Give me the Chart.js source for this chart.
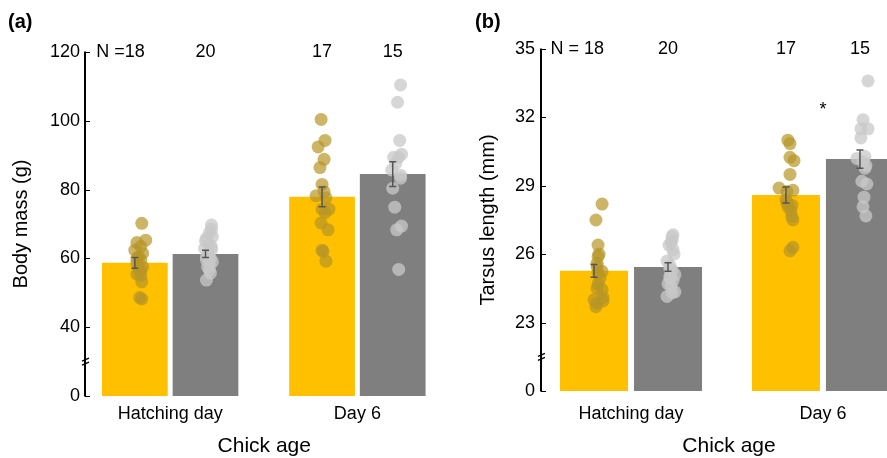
<!DOCTYPE html>
<html>
<head>
<meta charset="utf-8">
<script src="https://cdn.jsdelivr.net/npm/chart.js@4.4.1/dist/chart.umd.min.js"></script>
<style>
    html, body { margin: 0; padding: 0; background: #fff; overflow: hidden; }
    #wrap { position: relative; width: 887px; height: 458px; overflow: hidden; }
    canvas { position: absolute; top: 0; }
    #massChart { left: 0; }
    #tarsusChart { left: 450px; }
</style>
</head>
<body>
<div id="wrap">
    <canvas id="massChart" width="450" height="458"></canvas>
    <canvas id="tarsusChart" width="480" height="458"></canvas>
</div>
<script>
/*
| Chick body mass and tarsus length, two groups (yellow / grey),
| bars = mean, whiskers = SE, dots = individual chicks.
*/

const ages = ["Hatching day", "Day 6"];

const nYellow = [18, 17];
const nGrey = [20, 15];

// Body mass (g)
const massTicks = [0, 40, 60, 80, 100, 120];
const massMeanYellow = [58.7, 77.9];
const massSeYellow = [1.55, 2.85];
const massMeanGrey = [61.3, 84.5];
const massSeGrey = [1.05, 3.6];

const massHatchYellow = [70.2, 65.3, 64.6, 63.5, 62.4, 61.5, 60.5, 60.0, 59.5, 58.6, 57.6, 57.0, 56.5, 55.4, 55.0, 53.2, 48.6, 48.2];
const massHatchYellowJit = [.037, .058, .011, .032, 0, .042, .021, .011, .032, .011, .042, .021, .032, .011, .032, .037, .026, .037];
const massHatchGrey = [69.7, 68.5, 67.5, 66.3, 65.8, 65.1, 64.0, 63.4, 62.9, 62.5, 61.5, 60.5, 60.0, 59.5, 59.0, 58.4, 57.5, 56.6, 55.7, 53.7];
const massHatchGreyJit = [.032, .032, .021, .037, .005, 0, .021, .032, -.005, .032, .016, .005, .026, .005, .037, .021, .011, .021, .026, .005];
const massDay6Yellow = [100.4, 94.3, 92.4, 88.8, 86.4, 81.5, 79.4, 78.2, 77.6, 74.3, 74.3, 73.3, 70.3, 68.3, 62.4, 62.0, 59.2];
const massDay6YellowJit = [-.005, .016, -.021, .011, -.011, 0, .011, -.032, .021, 0, .037, .016, -.005, .032, 0, .005, .021];
const massDay6Grey = [110.4, 105.4, 94.3, 90.3, 89.4, 89.4, 87.6, 85.7, 84.2, 83.3, 80.4, 74.9, 69.4, 68.3, 56.8];
const massDay6GreyJit = [.042, .026, .037, .047, .005, .032, .016, -.005, .042, .042, 0, .011, .047, .021, .032];

// Tarsus length (mm)
const tarsusTicks = [0, 23, 26, 29, 32, 35];
const tarsusMeanYellow = [25.27, 28.6];
const tarsusSeYellow = [0.28, 0.35];
const tarsusMeanGrey = [25.44, 30.17];
const tarsusSeGrey = [0.19, 0.4];

const tarsusHatchYellow = [28.2, 27.5, 26.4, 26.0, 25.9, 25.6, 25.45, 25.25, 25.2, 24.95, 24.7, 24.5, 24.45, 24.1, 24.0, 23.95, 23.85, 23.7];
const tarsusHatchYellowJit = [.042, .010, .021, .026, .021, .016, .016, .042, .021, .031, .021, .016, .042, .047, 0, .047, .016, .010];
const tarsusHatchGrey = [26.85, 26.75, 26.6, 26.5, 26.4, 26.2, 26.0, 25.7, 25.5, 25.35, 25.3, 25.1, 25.05, 24.95, 24.85, 24.7, 24.6, 24.35, 24.3, 24.15];
const tarsusHatchGreyJit = [.026, .021, .021, .016, .005, .026, .031, -.005, .010, .010, .021, .036, .010, .010, .026, 0, .016, .036, .021, -.005];
const tarsusDay6Yellow = [31.0, 30.85, 30.25, 30.1, 29.5, 28.9, 28.8, 28.75, 28.4, 28.25, 28.15, 28.1, 27.9, 27.65, 27.5, 26.3, 26.15];
const tarsusDay6YellowJit = [.010, .021, .021, .042, .021, -.036, .036, .005, 0, .005, .031, .010, .026, .031, .036, .036, .021];
const tarsusDay6Grey = [33.6, 31.9, 31.5, 31.5, 31.1, 30.28, 30.2, 30.06, 29.9, 29.77, 29.2, 29.08, 28.5, 28.08, 27.68];
const tarsusDay6GreyJit = [.042, .016, .005, .042, .005, .026, -.016, .016, .031, .026, .010, .036, .021, .016, .031];

const YELLOW = "#FFC000";
const GREY = "#7F7F7F";
const YELLOW_DOT = "rgba(182, 150, 38, 0.7)";
const GREY_DOT = "rgba(200, 200, 200, 0.75)";
const WHISKER = "#555555";
const FONT = "'Liberation Sans', Arial, Helvetica, sans-serif";

Chart.defaults.font.family = FONT;
Chart.defaults.color = "#000";

function pointData(valuesByAge, jitterByAge, side, catPct, toAxis) {

    const out = [];

    valuesByAge.forEach((vals, i) => {

        vals.forEach((v, k) => {

            out.push({ x: i + 1 + side * catPct / 4 + jitterByAge[i][k], y: toAxis(v) });

        });

    });

    return out;
}

function createPanel({

    canvas,

    panelLabel,

    yTitle,

    ticksReal,

    meanYellow, seYellow, meanGrey, seGrey,

    dotsYellow, jitYellow, dotsGrey, jitGrey,

    nPrefix,

    marks = [],

    box

}) {

    // broken axis: everything above the break is shifted down by the gap
    const gap = ticksReal[1] - (ticksReal[2] - ticksReal[1]);

    const toAxis = v => (v === 0 ? 0 : v - gap);

    const tickAxis = ticksReal.map(toAxis);

    const yMax = tickAxis[tickAxis.length - 1];

    const decor = {

        id: "decor",

        afterDatasetsDraw(chart) {

            const { ctx, scales: { y } } = chart;

            ctx.save();

            ctx.strokeStyle = WHISKER;

            ctx.lineWidth = 1.5;

            [[0, meanYellow, seYellow], [1, meanGrey, seGrey]].forEach(([idx, means, ses]) => {

                chart.getDatasetMeta(idx).data.forEach((bar, i) => {

                    const top = y.getPixelForValue(toAxis(means[i] + ses[i]));

                    const bot = y.getPixelForValue(toAxis(means[i] - ses[i]));

                    ctx.beginPath();

                    ctx.moveTo(bar.x, top); ctx.lineTo(bar.x, bot);

                    ctx.moveTo(bar.x - 3.5, top); ctx.lineTo(bar.x + 3.5, top);

                    ctx.moveTo(bar.x - 3.5, bot); ctx.lineTo(bar.x + 3.5, bot);

                    ctx.stroke();

                });

            });

            ctx.restore();

        },

        afterDraw(chart) {

            const { ctx, chartArea, scales: { x, y } } = chart;

            const left = chartArea.left;

            const yTop = y.getPixelForValue(yMax);

            const yZero = y.getPixelForValue(0);

            ctx.save();

            // y axis line
            ctx.strokeStyle = "#000";

            ctx.lineWidth = 2;

            ctx.beginPath();

            ctx.moveTo(left, yTop - 0.5);

            ctx.lineTo(left, yZero + 0.5);

            ctx.stroke();

            // ticks point inwards
            ctx.lineWidth = 1;

            ctx.beginPath();

            tickAxis.forEach(v => {

                const py = Math.round(y.getPixelForValue(v)) + 0.5;

                ctx.moveTo(left, py);

                ctx.lineTo(left + 5, py);

            });

            ctx.stroke();

            // break mark
            const by = y.getPixelForValue(tickAxis[1] / 2);

            ctx.lineWidth = 1.3;

            ctx.beginPath();

            [-2, 2].forEach(d => {

                ctx.moveTo(left - 3, by + d + 1.5);

                ctx.lineTo(left + 4, by + d - 1.5);

            });

            ctx.stroke();

            // sample sizes
            ctx.fillStyle = "#000";

            ctx.font = "18px " + FONT;

            ctx.textBaseline = "middle";

            [[0, nYellow], [1, nGrey]].forEach(([idx, ns]) => {

                chart.getDatasetMeta(idx).data.forEach((bar, i) => {

                    const txt = String(ns[i]);

                    ctx.textAlign = "center";

                    ctx.fillText(txt, bar.x, chartArea.top);

                    if (idx === 0 && i === 0) {

                        ctx.textAlign = "right";

                        ctx.fillText(nPrefix, bar.x - ctx.measureText(txt).width / 2, chartArea.top);

                    }

                });

            });

            // significance marks
            ctx.textAlign = "center";

            marks.forEach(m => {

                ctx.fillText(m.text, x.getPixelForValue(m.x), y.getPixelForValue(toAxis(m.y)) + 4);

            });

            // panel letter
            ctx.font = "bold 20px " + FONT;

            ctx.textAlign = "left";

            ctx.fillText(panelLabel, box.labelX, 22);

            ctx.restore();

        }

    };

    return new Chart(canvas, {

        type: "bar",

        data: {

            datasets: [

                {

                    type: "bar",

                    data: meanYellow.map((m, i) => ({ x: i + 1, y: toAxis(m) })),

                    backgroundColor: YELLOW,

                    borderWidth: 0,

                    categoryPercentage: box.catPct,

                    barPercentage: box.barPct,

                    order: 2

                },

                {

                    type: "bar",

                    data: meanGrey.map((m, i) => ({ x: i + 1, y: toAxis(m) })),

                    backgroundColor: GREY,

                    borderWidth: 0,

                    categoryPercentage: box.catPct,

                    barPercentage: box.barPct,

                    order: 2

                },

                {

                    type: "scatter",

                    data: pointData(dotsYellow, jitYellow, -1, box.catPct, toAxis),

                    backgroundColor: YELLOW_DOT,

                    borderWidth: 0,

                    pointRadius: 6.5,

                    order: 1

                },

                {

                    type: "scatter",

                    data: pointData(dotsGrey, jitGrey, 1, box.catPct, toAxis),

                    backgroundColor: GREY_DOT,

                    borderWidth: 0,

                    pointRadius: 6.5,

                    order: 1

                }

            ]

        },

        options: {

            responsive: false,

            animation: false,

            events: [],

            layout: {

                padding: { left: 0, top: box.padTop, right: box.padRight, bottom: 0 }

            },

            plugins: {

                legend: { display: false },

                tooltip: { enabled: false }

            },

            scales: {

                x: {

                    type: "linear",

                    offset: false,

                    min: box.xMin,

                    max: box.xMax,

                    grid: { display: false, drawTicks: false },

                    border: { display: false },

                    afterBuildTicks: s => { s.ticks = ages.map((a, i) => ({ value: i + 1 })); },

                    afterFit: s => { s.height = box.xHeight; },

                    ticks: {

                        autoSkip: false,

                        maxRotation: 0,

                        padding: box.xTickPad,

                        font: { size: 18 },

                        callback: v => ages[v - 1]

                    },

                    title: {

                        display: true,

                        text: "Chick age",

                        font: { size: 21, lineHeight: 1 },

                        padding: { top: 0, bottom: 1.5 }

                    }

                },

                y: {

                    min: 0,

                    max: yMax,

                    grid: { display: false, drawTicks: false },

                    border: { display: false },

                    afterBuildTicks: s => { s.ticks = tickAxis.map(v => ({ value: v })); },

                    afterFit: s => { s.width = box.yWidth; },

                    ticks: {

                        padding: box.yTickPad,

                        font: { size: 18 },

                        callback: (v, i) => String(ticksReal[i])

                    },

                    title: {

                        display: true,

                        text: yTitle,

                        font: { size: 20, lineHeight: 1 },

                        padding: { top: box.yTitlePad, bottom: 0 }

                    }

                }

            }

        },

        plugins: [decor]

    });
}

createPanel({

    canvas: document.getElementById("massChart"),

    panelLabel: "(a)",

    yTitle: "Body mass (g)",

    ticksReal: massTicks,

    meanYellow: massMeanYellow, seYellow: massSeYellow,

    meanGrey: massMeanGrey, seGrey: massSeGrey,

    dotsYellow: [massHatchYellow, massDay6Yellow],

    jitYellow: [massHatchYellowJit, massDay6YellowJit],

    dotsGrey: [massHatchGrey, massDay6Grey],

    jitGrey: [massHatchGreyJit, massDay6GreyJit],

    nPrefix: "N =",

    box: {

        labelX: 8, padTop: 52, padRight: 5, yWidth: 85, xHeight: 62,

        xMin: 0.545, xMax: 2.46, catPct: 0.755, barPct: 0.93,

        yTickPad: 5, xTickPad: 7, yTitlePad: 11.5

    }

});

createPanel({

    canvas: document.getElementById("tarsusChart"),

    panelLabel: "(b)",

    yTitle: "Tarsus length (mm)",

    ticksReal: tarsusTicks,

    meanYellow: tarsusMeanYellow, seYellow: tarsusSeYellow,

    meanGrey: tarsusMeanGrey, seGrey: tarsusSeGrey,

    dotsYellow: [tarsusHatchYellow, tarsusDay6Yellow],

    jitYellow: [tarsusHatchYellowJit, tarsusDay6YellowJit],

    dotsGrey: [tarsusHatchGrey, tarsusDay6Grey],

    jitGrey: [tarsusHatchGreyJit, tarsusDay6GreyJit],

    nPrefix: "N = ",

    marks: [{ x: 2, y: 32.5, text: "*" }],

    box: {

        labelX: 25, padTop: 49, padRight: 13, yWidth: 91, xHeight: 67,

        xMin: 0.531, xMax: 2.49, catPct: 0.771, barPct: 0.919,

        yTickPad: 6, xTickPad: 12, yTitlePad: 28

    }

});
</script>
</body>
</html>
